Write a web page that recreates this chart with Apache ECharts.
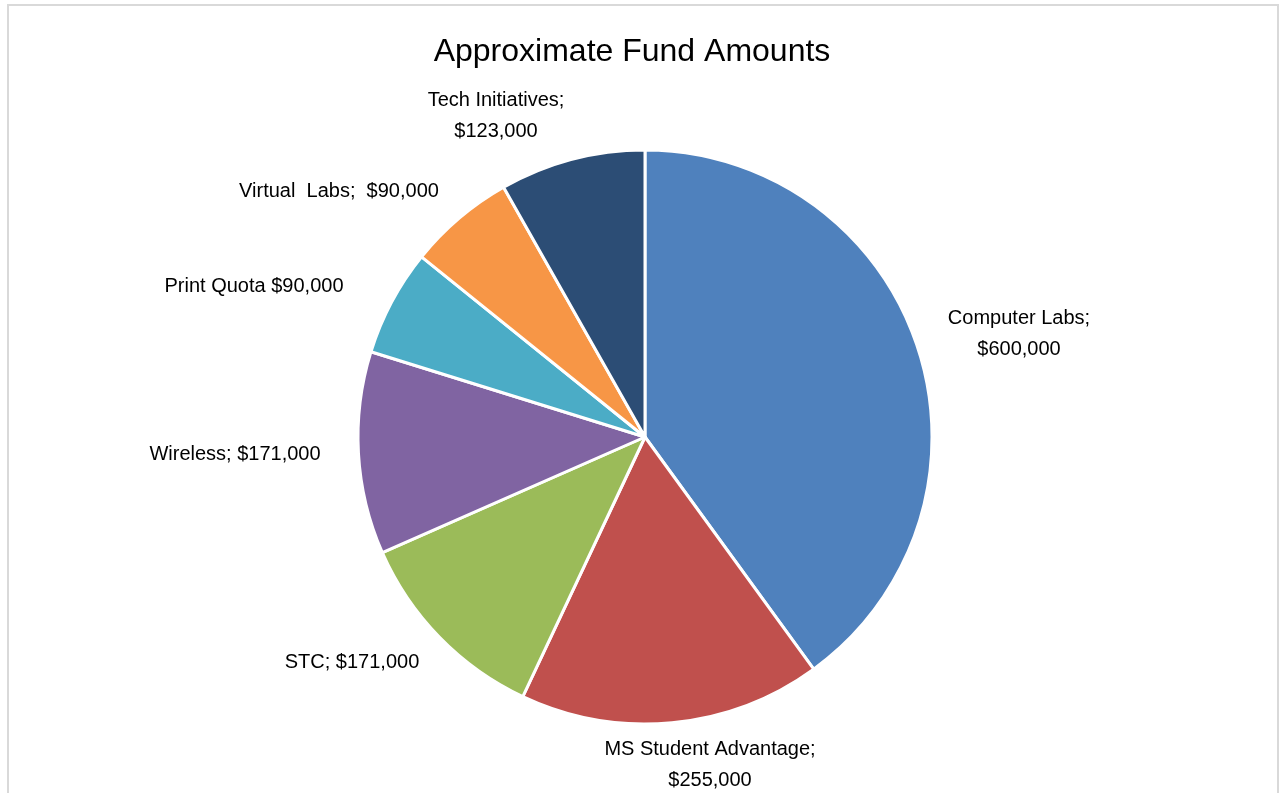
<!DOCTYPE html>
<html>
<head>
<meta charset="utf-8">
<script src="https://cdn.jsdelivr.net/npm/echarts@6/dist/echarts.min.js"></script>
<style>
  html, body { margin: 0; padding: 0; background: #fff; }
  #chart { width: 1286px; height: 793px; }
</style>
</head>
<body>
<div id="chart"></div>
<script>
// fund categories, clockwise from 12 o'clock
var categories = ["Computer Labs", "MS Student Advantage", "STC", "Wireless", "Print Quota", "Virtual Labs", "Tech Initiatives"];
var amounts = [600000, 255000, 171000, 171000, 90000, 90000, 123000];
var labelTexts = [
    "Computer Labs;\n$600,000",
    "MS Student Advantage;\n$255,000",
    "STC; $171,000",
    "Wireless; $171,000",
    "Print Quota $90,000",
    "Virtual  Labs;  $90,000",
    "Tech Initiatives;\n$123,000"
];
var colors = ["#4F81BD", "#C0504D", "#9BBB59", "#8064A2", "#4BACC6", "#F79646", "#2C4D75"];

var myChart = echarts.init(document.getElementById("chart"));

// excel style label spots (label centres)
var labelSpots = [[1019, 334], [710, 765], [352, 662], [235, 454], [254, 286], [339, 191], [496, 116]];

var option = {
    animation: false,
    title: {
        text: "Approximate Fund Amounts",
        left: 627,
        top: 31,
        textAlign: "center",
        textStyle: { fontFamily: "Liberation Sans", fontSize: 32, fontWeight: "normal", color: "#000" }
    },
    graphic: [{
        type: "rect",
        shape: { x: 8, y: 5, width: 1270, height: 820 },
        style: { fill: null, stroke: "#d9d9d9", lineWidth: 2 },
        silent: true
    }],
    series: [{
        type: "pie",
        center: [645, 437],
        radius: 287,
        startAngle: 90,
        clockwise: true,
        data: categories.map(function (c, i) {
            return { name: c, value: amounts[i], itemStyle: { color: colors[i] } };
        }),
        itemStyle: { borderColor: "#fff", borderWidth: 3 },
        label: {
            show: true,
            position: "outside",
            formatter: function (p) { return labelTexts[p.dataIndex]; },
            fontFamily: "Liberation Sans",
            fontSize: 20,
            color: "#000",
            lineHeight: 31,
            align: "center"
        },
        labelLine: { show: false },
        labelLayout: function (params) {
            var s = labelSpots[params.dataIndex];
            return { x: s[0], y: s[1], align: "center", verticalAlign: "middle" };
        },
        emphasis: { disabled: true }
    }]
};
myChart.setOption(option);
</script>
</body>
</html>
